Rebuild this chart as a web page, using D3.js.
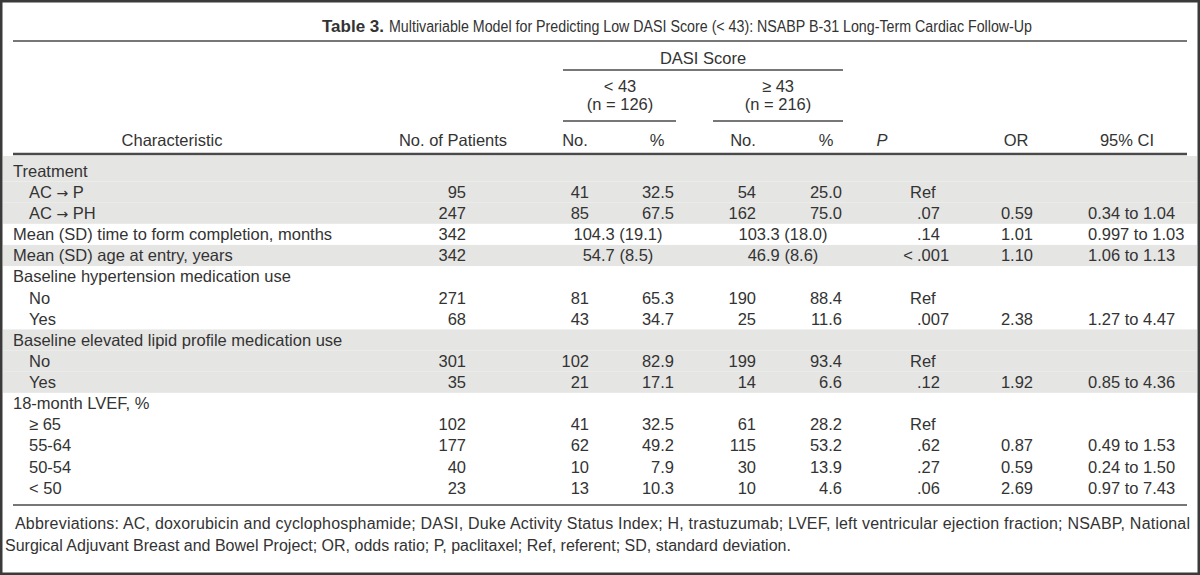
<!DOCTYPE html>
<html>
<head>
<meta charset="utf-8">
<script src="https://cdn.jsdelivr.net/npm/d3@7"></script>
<style>
  html, body { margin: 0; padding: 0; background: #fff; }
  svg { display: block; }
  text { font-family: "Liberation Sans", Arial, sans-serif; fill: #333; }
</style>
</head>
<body>
<svg id="chart" width="1200" height="575"></svg>
<script>
// ---------------- DATA ----------------
const titleBold = "Table 3.";
const titleRest = "Multivariable Model for Predicting Low DASI Score (< 43): NSABP B-31 Long-Term Cardiac Follow-Up";
const spanTitle = "DASI Score";
const groupLabels = ["< 43", "≥ 43"];
const groupNs = ["(n = 126)", "(n = 216)"];
const columnHeaders = ["Characteristic", "No. of Patients", "No.", "%", "No.", "%", "P", "OR", "95% CI"];

const rowLabels = [
  "Treatment", "AC → P", "AC → PH",
  "Mean (SD) time to form completion, months",
  "Mean (SD) age at entry, years",
  "Baseline hypertension medication use", "No", "Yes",
  "Baseline elevated lipid profile medication use", "No", "Yes",
  "18-month LVEF, %", "≥ 65", "55-64", "50-54", "< 50"
];
const rowIndent = [0, 1, 1, 0, 0, 0, 1, 1, 0, 1, 1, 0, 1, 1, 1, 1];
const rowShaded = [1, 1, 1, 0, 1, 0, 0, 0, 1, 1, 1, 0, 0, 0, 0, 0];

const nPatients = ["", "95", "247", "342", "342", "", "271", "68", "", "301", "35", "", "102", "177", "40", "23"];
const lowNo     = ["", "41", "85", "", "", "", "81", "43", "", "102", "21", "", "41", "62", "10", "13"];
const lowPct    = ["", "32.5", "67.5", "", "", "", "65.3", "34.7", "", "82.9", "17.1", "", "32.5", "49.2", "7.9", "10.3"];
const lowMean   = ["", "", "", "104.3 (19.1)", "54.7 (8.5)", "", "", "", "", "", "", "", "", "", "", ""];
const highNo    = ["", "54", "162", "", "", "", "190", "25", "", "199", "14", "", "61", "115", "30", "10"];
const highPct   = ["", "25.0", "75.0", "", "", "", "88.4", "11.6", "", "93.4", "6.6", "", "28.2", "53.2", "13.9", "4.6"];
const highMean  = ["", "", "", "103.3 (18.0)", "46.9 (8.6)", "", "", "", "", "", "", "", "", "", "", ""];
const pValues   = ["", "Ref", ".07", ".14", "< .001", "", "Ref", ".007", "", "Ref", ".12", "", "Ref", ".62", ".27", ".06"];
const orValues  = ["", "", "0.59", "1.01", "1.10", "", "", "2.38", "", "", "1.92", "", "", "0.87", "0.59", "2.69"];
const ciValues  = ["", "", "0.34 to 1.04", "0.997 to 1.03", "1.06 to 1.13", "", "", "1.27 to 4.47", "", "", "0.85 to 4.36", "", "", "0.49 to 1.53", "0.24 to 1.50", "0.97 to 7.43"];

const footLine1 = "Abbreviations: AC, doxorubicin and cyclophosphamide; DASI, Duke Activity Status Index; H, trastuzumab; LVEF, left ventricular ejection fraction; NSABP, National";
const footLine2 = "Surgical Adjuvant Breast and Bowel Project; OR, odds ratio; P, paclitaxel; Ref, referent; SD, standard deviation.";

// ---------------- LAYOUT ----------------
const W = 1200, H = 575;
const FS = 16.5;
const svg = d3.select("#chart");
const ruleCol = "#4a4a4a";

// border frame
svg.append("rect").attr("x", 1.25).attr("y", 1.25).attr("width", W - 2.5).attr("height", H - 2.5)
  .attr("fill", "none").attr("stroke", "#3a3a3a").attr("stroke-width", 2.5);

// row scale
const idx = d3.range(rowLabels.length);
const y = d3.scaleBand().domain(idx).range([160.4, 160.4 + 21.13 * rowLabels.length]).padding(0);
const step = y.step();

// column positions
const col = {
  label: 13, indent: 29,
  nPat: 466, lowNo: 589, lowPct: 674, lowMeanC: 618,
  highNo: 756, highPct: 842, highMeanC: 783,
  pDot: 917, or: 1033, ci: 1088
};

// shading
svg.append("g").selectAll("rect").data(idx.filter(i => rowShaded[i]))
  .join("rect")
  .attr("x", 3).attr("width", W - 6)
  .attr("y", i => i === 0 ? 156 : y(i))
  .attr("height", i => i === 0 ? y(i) + step - 156 : step)
  .attr("fill", "#e5e5e4");

// title (condensed look)
svg.append("text").attr("x", 322).attr("y", 26).attr("dy", "0.35em")
  .attr("font-weight", "bold").attr("font-size", 16.5)
  .attr("font-family", "'Liberation Sans Narrow', 'Liberation Sans', Arial")
  .attr("textLength", 62).attr("lengthAdjust", "spacingAndGlyphs")
  .text(titleBold);
svg.append("text").attr("x", 389).attr("y", 26).attr("dy", "0.35em")
  .attr("font-size", 16)
  .attr("textLength", 643).attr("lengthAdjust", "spacingAndGlyphs")
  .text(titleRest);

function hline(x1, x2, yy, w) {
  svg.append("line").attr("x1", x1).attr("x2", x2).attr("y1", yy).attr("y2", yy)
    .attr("stroke", ruleCol).attr("stroke-width", w);
}
hline(13, 1187, 41, 1.6);
hline(563, 843, 70, 1.5);
hline(563, 676, 121, 1.5);
hline(713, 843, 121, 1.5);
hline(13, 1187, 154, 2.6);
hline(13, 1187, 505, 1.6);

// span headers
svg.append("text").attr("x", 703).attr("y", 58).attr("dy", "0.35em").attr("text-anchor", "middle")
  .attr("font-size", FS).text(spanTitle);
const groupCenters = [620, 778];
groupLabels.forEach((g, k) => {
  svg.append("text").attr("x", groupCenters[k]).attr("y", 86).attr("dy", "0.35em").attr("text-anchor", "middle")
    .attr("font-size", FS).text(g);
  svg.append("text").attr("x", groupCenters[k]).attr("y", 104).attr("dy", "0.35em").attr("text-anchor", "middle")
    .attr("font-size", FS).text(groupNs[k]);
});

// column headers
const headerX = [172, 453, 575, 657, 743, 826, 882, 1016, 1127];
svg.append("g").selectAll("text").data(columnHeaders).join("text")
  .attr("x", (d, i) => headerX[i]).attr("y", 140).attr("dy", "0.35em")
  .attr("text-anchor", "middle").attr("font-size", FS)
  .attr("font-style", (d, i) => i === 6 ? "italic" : null)
  .text(d => d);

// body
const body = svg.append("g").attr("font-size", FS);
const cy = i => y(i) + step / 2;

function colText(arr, x, anchor) {
  body.append("g").selectAll("text").data(idx.filter(i => arr[i] !== ""))
    .join("text")
    .attr("x", x).attr("y", cy).attr("dy", "0.35em")
    .attr("text-anchor", anchor)
    .text(i => arr[i]);
}

// row labels (arrow drawn with a font that has a full-size arrow)
body.append("g").selectAll("text").data(idx).join("text")
  .attr("x", i => rowIndent[i] ? col.indent : col.label)
  .attr("y", cy).attr("dy", "0.35em")
  .each(function (i) {
    const t = d3.select(this);
    const parts = rowLabels[i].split("→");
    parts.forEach((p, k) => {
      if (k > 0) t.append("tspan").attr("font-family", "'DejaVu Sans', sans-serif").attr("font-size", 14).text("→");
      t.append("tspan").text(p);
    });
  });

colText(nPatients, col.nPat, "end");
colText(lowNo, col.lowNo, "end");
colText(lowPct, col.lowPct, "end");
colText(lowMean, col.lowMeanC, "middle");
colText(highNo, col.highNo, "end");
colText(highPct, col.highPct, "end");
colText(highMean, col.highMeanC, "middle");
colText(orValues, col.or, "end");
colText(ciValues, col.ci, "start");

// P values: decimal aligned
idx.filter(i => pValues[i] !== "").forEach(i => {
  const v = pValues[i];
  const dot = v.indexOf(".");
  if (dot < 0) {
    body.append("text").attr("x", col.pDot - 7).attr("y", cy(i)).attr("dy", "0.35em").text(v);
  } else {
    const pre = v.slice(0, dot).trim();
    const post = v.slice(dot);
    body.append("text").attr("x", col.pDot).attr("y", cy(i)).attr("dy", "0.35em").text(post);
    if (pre) body.append("text").attr("x", col.pDot - 4).attr("y", cy(i)).attr("dy", "0.35em")
      .attr("text-anchor", "end").text(pre);
  }
});

// footnote
svg.append("text").attr("x", 15).attr("y", 523).attr("dy", "0.35em").attr("font-size", 16)
  .attr("textLength", 1175).attr("lengthAdjust", "spacing").text(footLine1);
svg.append("text").attr("x", 5).attr("y", 545).attr("dy", "0.35em").attr("font-size", 16)
  .text(footLine2);
</script>
</body>
</html>
